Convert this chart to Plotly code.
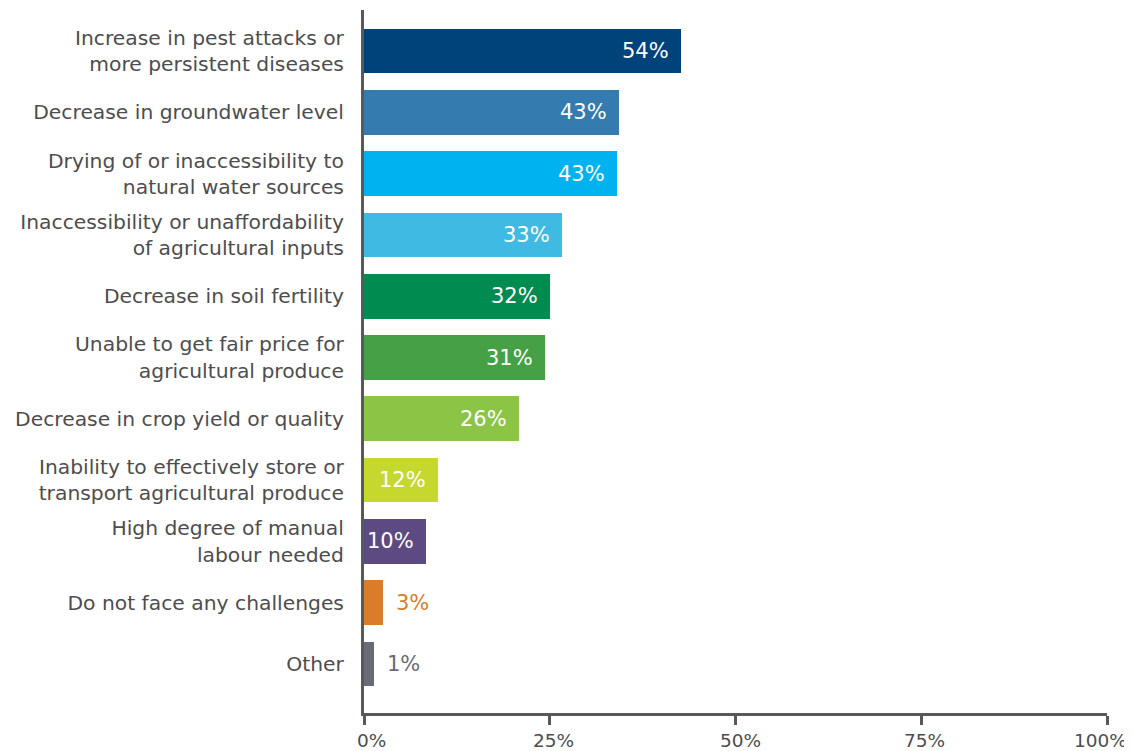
import plotly.graph_objects as go

categories = [
    "Increase in pest attacks or<br>more persistent diseases",
    "Decrease in groundwater level",
    "Drying of or inaccessibility to<br>natural water sources",
    "Inaccessibility or unaffordability<br>of agricultural inputs",
    "Decrease in soil fertility",
    "Unable to get fair price for<br>agricultural produce",
    "Decrease in crop yield or quality",
    "Inability to effectively store or<br>transport agricultural produce",
    "High degree of manual<br>labour needed",
    "Do not face any challenges",
    "Other",
]
# bar lengths as drawn on the 0-100% axis
bar_values = [42.7, 34.3, 34.0, 26.6, 25.1, 24.4, 20.9, 9.9, 8.3, 2.5, 1.3]
# printed labels
value_labels = ["54%", "43%", "43%", "33%", "32%", "31%", "26%", "12%", "10%", "3%", "1%"]
colors = ["#00427a", "#347bb0", "#00b3f0", "#3fbbe3", "#008c50", "#46a046",
          "#8cc445", "#c4d82e", "#5c4a82", "#d97d2b", "#676b73"]
label_inside = [True] * 9 + [False, False]

x_ticks = [0, 25, 50, 75, 100]
x_ticktext = ["0%", "25%", "50%", "75%", "100%"]
x_tick_nudge = [7, 4, 5, 3, -7]

ypos = list(range(len(categories)))

fig = go.Figure(go.Bar(
    x=bar_values, y=ypos, orientation="h",
    marker=dict(color=colors, line=dict(width=0)),
    width=0.73, hoverinfo="skip",
))

font_family = "'DejaVu Sans', Inter, sans-serif"
for i, (v, lab, c, inside) in enumerate(zip(bar_values, value_labels, colors, label_inside)):
    fig.add_annotation(
        x=v, y=i, text=lab, showarrow=False,
        xanchor="right" if inside else "left",
        xshift=-10 if inside else 11,
        font=dict(family=font_family, size=21, color="white" if inside else c),
    )

# x tick labels as annotations so that the last one stays inside the page
for tv, tt, dx in zip(x_ticks, x_ticktext, x_tick_nudge):
    fig.add_annotation(
        x=tv, xref="x", y=0, yref="paper", text=tt, showarrow=False,
        xanchor="center", yanchor="middle", xshift=dx, yshift=-27,
        font=dict(family=font_family, size=18.5, color="#4d4d4f"),
    )

# the page adds an 8px body margin; the figure is sized to fit the window
fig.update_layout(
    width=1124, height=743,
    margin=dict(l=356, r=25, t=2, b=38),
    paper_bgcolor="white", plot_bgcolor="white",
    showlegend=False,
    font=dict(family=font_family, color="#4d4d4f"),
    bargap=0,
)
fig.update_xaxes(
    range=[0, 100], tickvals=x_ticks, showticklabels=False,
    showgrid=False, zeroline=False, automargin=False,
    showline=True, linecolor="#58595b", linewidth=3,
    ticks="outside", ticklen=9, tickwidth=3, tickcolor="#58595b",
    fixedrange=True,
)
fig.update_yaxes(
    range=[10.8, -0.67], tickvals=ypos, ticktext=categories,
    showgrid=False, zeroline=False, automargin=False,
    showline=True, linecolor="#58595b", linewidth=3,
    ticks="", ticklabelstandoff=13,
    tickfont=dict(size=20.3, color="#4d4d4f", family=font_family),
    ticklabeloverflow="allow",
    fixedrange=True,
)

fig.write_html("out.html")
